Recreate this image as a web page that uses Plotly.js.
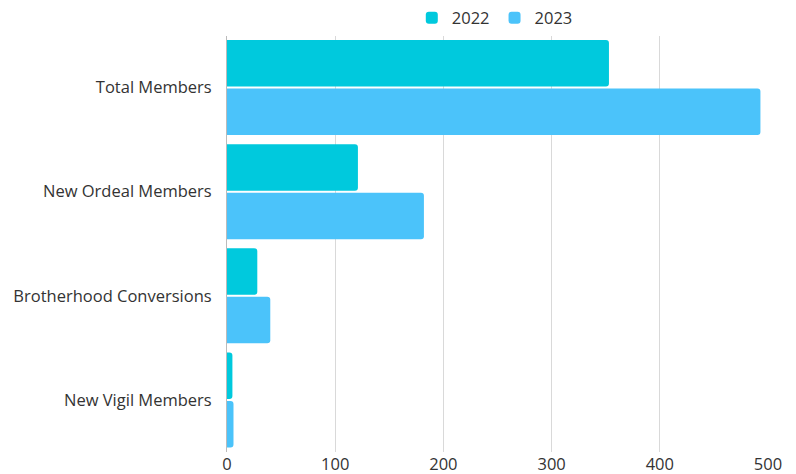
<!DOCTYPE html>
<html>
<head>
<meta charset="utf-8">
<script src="https://cdn.plot.ly/plotly-3.0.1.min.js"></script>
<style>html,body{margin:0;padding:0;background:#fff;}#chart{width:796px;height:474px;}</style>
</head>
<body>
<div id="chart"></div>
<script>
const categories = ["Total Members", "New Ordeal Members", "Brotherhood Conversions", "New Vigil Members"];
const series2022 = [353, 121, 28, 5];
const series2023 = [493, 182, 40, 6];
const seriesNames = ["2022", "2023"];
const tickValues = [0, 100, 200, 300, 400, 500];

const fontFam = "'Open Sans', sans-serif";
const traces = [
  {type: "bar", orientation: "h", name: seriesNames[0], y: categories, x: series2022,
   marker: {color: "#00C9DD", cornerradius: 3}, hoverinfo: "x"},
  {type: "bar", orientation: "h", name: seriesNames[1], y: categories, x: series2023,
   marker: {color: "#4BC3FA", cornerradius: 3}, hoverinfo: "x"}
];
const layout = {
  width: 796, height: 474,
  margin: {l: 227, r: 28, t: 32, b: 22},
  paper_bgcolor: "#fff", plot_bgcolor: "#fff",
  font: {family: fontFam, size: 16.5, color: "#333"},
  barmode: "group", bargap: 0.07, bargroupgap: 0.04,
  showlegend: true,
  legend: {orientation: "h", x: 0.495, xanchor: "center", yref: "container", y: 0.962, yanchor: "middle",
           font: {size: 16.5, color: "#333"}, traceorder: "normal", itemwidth: 30},
  xaxis: {range: [0, 500], tickvals: tickValues, showgrid: true, gridcolor: "#d9d9d9",
          zeroline: false, showline: false, ticks: "", automargin: false,
          tickfont: {size: 16.5, color: "#333"}},
  yaxis: {autorange: "reversed", showgrid: false, zeroline: false, showline: true,
          linecolor: "#bbb", ticks: "outside", ticklen: 11, tickcolor: "rgba(0,0,0,0)",
          automargin: false, tickfont: {size: 16.5, color: "#333"}}
};
Plotly.newPlot("chart", traces, layout, {displayModeBar: false, staticPlot: true});
</script>
</body>
</html>
